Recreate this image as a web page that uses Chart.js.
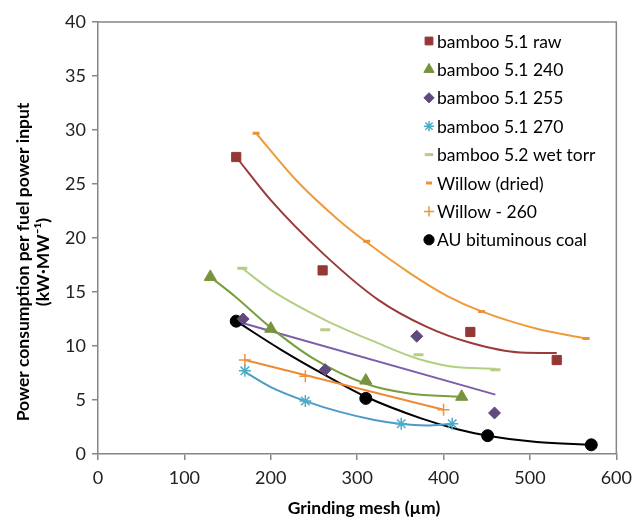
<!DOCTYPE html>
<html>
<head>
<meta charset="utf-8">
<script src="https://cdn.jsdelivr.net/npm/chart.js@4"></script>
<style>
  html, body { margin: 0; padding: 0; background: #fff; }
  #wrap { width: 639px; height: 523px; }
</style>
</head>
<body>
<div id="wrap"><canvas id="chart"></canvas></div>
<script>
// measured points (grinding mesh in µm, kW/MW)
const rawX = [160, 260, 431, 531];
const rawY = [27.5, 17.0, 11.3, 8.7];
const b240X = [130, 200, 310, 421];
const b240Y = [16.4, 11.6, 6.8, 5.3];
const b255X = [168, 263, 369, 459];
const b255Y = [12.5, 7.8, 10.9, 3.8];
const b270X = [170, 240, 351, 410];
const b270Y = [7.7, 4.9, 2.8, 2.8];
const wetX = [167, 263, 371, 460];
const wetY = [17.2, 11.5, 9.2, 7.8];
const willowX = [183, 311, 444, 565];
const willowY = [29.7, 19.7, 13.2, 10.7];
const w260X = [170, 240, 400];
const w260Y = [8.7, 7.2, 4.1];
const coalX = [160, 310, 451, 571];
const coalY = [12.3, 5.15, 1.7, 0.85];

// trendlines
const rawTrendX = [160, 200, 260, 324, 380, 431, 489, 531];
const rawTrendY = [27.5, 23.5, 18.6, 14.3, 11.8, 10.3, 9.4, 9.35];
const b240TrendX = [130, 160, 200, 250, 310, 360, 420];
const b240TrendY = [16.4, 14.5, 11.7, 8.8, 6.5, 5.6, 5.3];
const b255TrendX = [168, 460];
const b255TrendY = [12.1, 5.5];
const b270TrendX = [170, 200, 240, 280, 320, 351, 380, 410];
const b270TrendY = [7.6, 6.2, 4.9, 3.9, 3.15, 2.78, 2.65, 2.8];
const wetTrendX = [167, 200, 263, 320, 371, 420, 460];
const wetTrendY = [17.2, 15.2, 12.4, 10.4, 8.8, 8.0, 7.9];
const willowTrendX = [183, 230, 278, 311, 360, 405, 444, 508, 565];
const willowTrendY = [29.7, 25.3, 21.7, 19.6, 16.8, 14.6, 13.2, 11.6, 10.7];
const w260TrendX = [170, 400];
const w260TrendY = [8.7, 4.1];
const coalTrendX = [160, 213, 263, 310, 374, 416, 451, 508, 571];
const coalTrendY = [12.3, 9.6, 7.3, 5.3, 3.3, 2.3, 1.7, 1.1, 0.85];

const xTicks = [0, 100, 200, 300, 400, 500, 600];
const yTicks = [0, 5, 10, 15, 20, 25, 30, 35, 40];

const FONT = "Lato, 'Open Sans', sans-serif";
const AXIS = '#868686';

const pts = (xs, ys) => xs.map((x, i) => ({ x: x, y: ys[i] }));

// series: label, points, trend, marker style
const SERIES = [
  { label: 'bamboo 5.1 raw', x: rawX, y: rawY, tx: rawTrendX, ty: rawTrendY,
    color: '#953735', line: '#9b3a3a', style: 'rect', r: 6.5, bw: 1 },
  { label: 'bamboo 5.1 240', x: b240X, y: b240Y, tx: b240TrendX, ty: b240TrendY,
    color: '#77933c', line: '#77a03c', style: 'triangle', r: 7, bw: 1 },
  { label: 'bamboo 5.1 255', x: b255X, y: b255Y, tx: b255TrendX, ty: b255TrendY,
    color: '#604a7b', line: '#7b5ea9', style: 'rectRot', r: 6, bw: 1 },
  { label: 'bamboo 5.1 270', x: b270X, y: b270Y, tx: b270TrendX, ty: b270TrendY,
    color: '#4bacc6', line: '#4f9bc8', style: 'star', r: 6, bw: 1.5 },
  { label: 'bamboo 5.2 wet torr', x: wetX, y: wetY, tx: wetTrendX, ty: wetTrendY,
    color: '#b3cf82', line: '#b3cf82', style: 'line', r: 5, bw: 3 },
  { label: 'Willow (dried)', x: willowX, y: willowY, tx: willowTrendX, ty: willowTrendY,
    color: '#e8923a', line: '#f09a3a', style: 'line', r: 3.5, bw: 3 },
  { label: 'Willow - 260', x: w260X, y: w260Y, tx: w260TrendX, ty: w260TrendY,
    color: '#f0913c', line: '#ee8a35', style: 'cross', r: 6, bw: 1.5 },
  { label: 'AU bituminous coal', x: coalX, y: coalY, tx: coalTrendX, ty: coalTrendY,
    color: '#000000', line: '#000000', style: 'circle', r: 6, bw: 1 }
];

const datasets = [];
SERIES.forEach(s => {
  datasets.push({
    data: pts(s.tx, s.ty),
    showLine: true,
    borderColor: s.line,
    borderWidth: 2,
    pointRadius: 0,
    cubicInterpolationMode: 'monotone',
    order: 2
  });
});
SERIES.forEach(s => {
  datasets.push({
    label: s.label,
    data: pts(s.x, s.y),
    showLine: false,
    pointStyle: s.style,
    pointRadius: s.r,
    pointBackgroundColor: s.color,
    pointBorderColor: s.color,
    pointBorderWidth: s.bw,
    order: 1
  });
});

// frame, legend and axis titles drawn on the canvas
const extras = {
  id: 'extras',
  afterDraw(chart) {
    const { ctx, chartArea: a } = chart;
    ctx.save();
    ctx.strokeStyle = AXIS;
    ctx.lineWidth = 1.5;
    ctx.beginPath();
    ctx.moveTo(a.left, a.top);
    ctx.lineTo(a.right, a.top);
    ctx.lineTo(a.right, a.bottom);
    ctx.stroke();

    // legend
    ctx.font = '17.5px ' + FONT;
    ctx.textBaseline = 'middle';
    ctx.textAlign = 'left';
    SERIES.forEach((s, i) => {
      const y = 41 + i * 28.4;
      ctx.fillStyle = s.color;
      ctx.strokeStyle = s.color;
      ctx.lineWidth = s.bw;
      Chart.helpers.drawPoint(ctx, { pointStyle: s.style, radius: s.r * 0.85, borderWidth: s.bw }, 429, y);
      ctx.fillStyle = '#000';
      ctx.fillText(s.label, 437, y + 1);
    });

    // axis titles
    ctx.font = 'bold 17.5px ' + FONT;
    ctx.textAlign = 'center';
    ctx.fillStyle = '#000';
    ctx.fillText('Grinding mesh (µm)', 364, 508);
    ctx.translate(23, 262);
    ctx.rotate(-Math.PI / 2);
    ctx.fillText('Power consumption per fuel power input', 0, 0);
    ctx.fillText('(kW·MW⁻¹)', 0, 20);
    ctx.restore();
  }
};

new Chart(document.getElementById('chart'), {
  type: 'scatter',
  data: { datasets: datasets },
  options: {
    responsive: true,
    maintainAspectRatio: false,
    animation: false,
    layout: { padding: { top: 22, right: 19, left: 0, bottom: 0 } },
    plugins: { legend: { display: false }, tooltip: { enabled: false } },
    scales: {
      x: {
        type: 'linear', min: 0, max: 600,
        afterBuildTicks: s => { s.ticks = xTicks.map(v => ({ value: v })); },
        afterFit: s => { s.height = 69; },
        grid: { display: true, drawOnChartArea: false, drawTicks: true, tickLength: 6, color: AXIS, lineWidth: 1.5 },
        border: { display: true, color: AXIS, width: 1.5 },
        ticks: { color: '#222', font: { family: FONT, size: 18 }, padding: 7 }
      },
      y: {
        type: 'linear', min: 0, max: 40,
        afterBuildTicks: s => { s.ticks = yTicks.map(v => ({ value: v })); },
        afterFit: s => { s.width = 98; },
        grid: { display: true, drawOnChartArea: false, drawTicks: true, tickLength: 6, color: AXIS, lineWidth: 1.5 },
        border: { display: true, color: AXIS, width: 1.5 },
        ticks: { color: '#222', font: { family: FONT, size: 18 }, padding: 6 }
      }
    }
  },
  plugins: [extras]
});
</script>
</body>
</html>
